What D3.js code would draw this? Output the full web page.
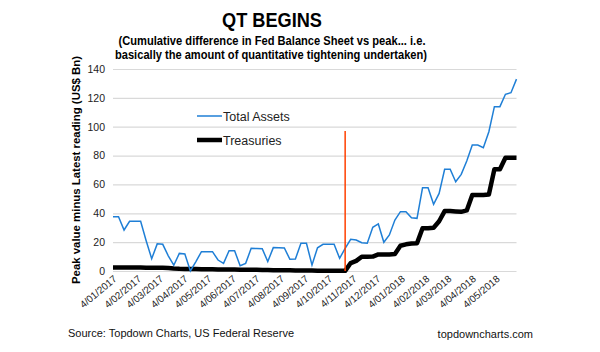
<!DOCTYPE html>
<html>
<head>
<meta charset="utf-8">
<script src="https://cdn.jsdelivr.net/npm/d3@7"></script>
<style>
  body { margin: 0; background: #fff; }
  svg { font-family: "Liberation Sans", Arial, sans-serif; }
</style>
</head>
<body>
<div id="chart"></div>
<script>
// weekly Fed H.4.1 readings, Wednesdays from 4 Jan 2017
const firstWeek = new Date(2017, 0, 4);
const totalAssets = [
  37.6, 37.6, 28.4, 34.4, 34.4, 34.4, 21, 8.5, 18.8, 18.5,
  10.5, 4, 12.2, 11.8, 0, 6.5, 13.4, 13.4, 13.4, 7.6,
  5.3, 14.1, 14, 3.7, 5.3, 15.7, 15.6, 15.5, 6.5, 16.2,
  16.1, 16, 8.1, 8.3, 19.2, 19.2, 4.2, 16.1, 18.5, 18.5,
  18.5, 8.8, 15.7, 22, 21.5, 19.6, 19.2, 30.3, 32.6, 19.9,
  25, 35.3, 41.1, 41.1, 36.9, 36.5, 57.7, 57.7, 46.2, 53.8,
  70.5, 70.5, 61.9, 67, 76.2, 87.3, 87.3, 85.4, 96.5, 113.9,
  113.9, 122.5, 123.6, 133
];
const treasuries = [
  2.5, 2.5, 2.5, 2.4, 2.4, 2.4, 2.3, 2.3, 2.3, 2.2,
  2.1, 1.7, 1.5, 1.4, 1.3, 1.3, 1.2, 1.2, 1.2, 1.1,
  1.1, 1.0, 1.0, 0.9, 0.9, 0.8, 0.8, 0.7, 0.7, 0.6,
  0.6, 0.5, 0.5, 0.4, 0.4, 0.3, 0.3, 0.2, 0.2, 0.1,
  0.1, 0.1, 0.1, 5.5, 7, 9.9, 9.9, 10, 11.5, 11.5,
  11.5, 11.8, 17.5, 18.5, 19, 19.2, 29.6, 29.6, 30, 34.5,
  41.5, 41.5, 41.3, 41, 42, 52.7, 52.7, 52.7, 53, 70.5,
  70.5, 78.5, 78.5, 78.5
];
const yTicks = [0, 20, 40, 60, 80, 100, 120, 140];
const qtStart = new Date(2017, 9, 25);
const qtMarkerTop = 97;

const dates = totalAssets.map((d, i) => d3.timeDay.offset(firstWeek, i * 7));

const W = 600, H = 352;
const margin = {top: 69, right: 83.5, bottom: 81, left: 113};
const w = W - margin.left - margin.right;
const h = H - margin.top - margin.bottom;

const svg = d3.select("#chart").append("svg")
  .attr("width", W).attr("height", H);

// titles
svg.append("text")
  .attr("x", 272).attr("y", 27)
  .attr("text-anchor", "middle")
  .attr("font-size", 21).attr("font-weight", "bold")
  .attr("textLength", 100).attr("lengthAdjust", "spacingAndGlyphs")
  .text("QT BEGINS");
svg.append("text")
  .attr("x", 272).attr("y", 45)
  .attr("text-anchor", "middle")
  .attr("font-size", 12.5).attr("font-weight", "bold")
  .attr("textLength", 307).attr("lengthAdjust", "spacingAndGlyphs")
  .text("(Cumulative difference in Fed Balance Sheet vs peak... i.e.");
svg.append("text")
  .attr("x", 271).attr("y", 59)
  .attr("text-anchor", "middle")
  .attr("font-size", 12.5).attr("font-weight", "bold")
  .attr("textLength", 312).attr("lengthAdjust", "spacingAndGlyphs")
  .text("basically the amount of quantitative tightening undertaken)");

const g = svg.append("g")
  .attr("transform", "translate(" + margin.left + "," + margin.top + ")");

const x = d3.scaleTime()
  .domain([dates[0], dates[dates.length - 1]])
  .range([0, w]);
const y = d3.scaleLinear()
  .domain([0, 140])
  .range([h, 0]);

// gridlines + y labels
const yAxis = d3.axisLeft(y).tickValues(yTicks).tickSize(-w).tickPadding(8);
g.append("g")
  .attr("class", "y-axis")
  .call(yAxis)
  .call(a => a.select(".domain").remove())
  .call(a => a.selectAll(".tick line").attr("stroke", "#d9d9d9").attr("stroke-width", 1.2))
  .call(a => a.selectAll(".tick text").attr("font-size", 10.5).attr("fill", "#222")
    .attr("font-family", "Liberation Sans, Arial, sans-serif"));

// x axis, monthly labels
const months = d3.timeMonth.range(new Date(2017, 0, 1), new Date(2018, 5, 1))
  .map(d => d3.timeDay.offset(d, 3));
const xAxis = d3.axisBottom(x).tickValues(months).tickSize(0)
  .tickFormat(d => d.getDate() + "/" + d3.timeFormat("%m/%Y")(d));
g.append("g")
  .attr("class", "x-axis")
  .attr("transform", "translate(0," + h + ")")
  .call(xAxis)
  .call(a => a.select(".domain").remove())
  .call(a => a.selectAll(".tick text")
    .attr("font-size", 10).attr("fill", "#222")
    .attr("font-family", "Liberation Sans, Arial, sans-serif")
    .attr("text-anchor", "end")
    .attr("dy", null).attr("y", 0)
    .attr("transform", "translate(4,9) rotate(-40)"));

// y title
svg.append("text")
  .attr("transform", "translate(80," + (margin.top + h / 2) + ") rotate(-90)")
  .attr("text-anchor", "middle")
  .attr("font-size", 11.5).attr("font-weight", "bold")
  .attr("textLength", 228).attr("lengthAdjust", "spacingAndGlyphs")
  .text("Peak value minus Latest reading (US$ Bn)");

const line = d3.line()
  .x((d, i) => x(dates[i]))
  .y(d => y(d));

g.append("path")
  .datum(treasuries)
  .attr("fill", "none")
  .attr("stroke", "#000")
  .attr("stroke-width", 4.5)
  .attr("stroke-linejoin", "round")
  .attr("d", line);

g.append("path")
  .datum(totalAssets)
  .attr("fill", "none")
  .attr("stroke", "#1f7fd6")
  .attr("stroke-width", 1.5)
  .attr("d", line);

// QT start marker
g.append("line")
  .attr("x1", x(qtStart)).attr("x2", x(qtStart))
  .attr("y1", y(0)).attr("y2", y(qtMarkerTop))
  .attr("stroke", "#ff4000")
  .attr("stroke-width", 1.5);

// legend
const legend = svg.append("g").attr("transform", "translate(197,116)");
const items = [
  {name: "Total Assets", color: "#1f7fd6", width: 1.5},
  {name: "Treasuries", color: "#000", width: 4.5}
];
items.forEach((it, i) => {
  legend.append("line")
    .attr("x1", 0).attr("x2", 25)
    .attr("y1", i * 24).attr("y2", i * 24)
    .attr("stroke", it.color).attr("stroke-width", it.width);
  legend.append("text")
    .attr("x", 26).attr("y", i * 24 + 4.5)
    .attr("font-size", 12.5).attr("fill", "#222")
    .text(it.name);
});

// footer
svg.append("text")
  .attr("x", 68).attr("y", 337)
  .attr("font-size", 11).attr("fill", "#111")
  .text("Source: Topdown Charts, US Federal Reserve");
svg.append("text")
  .attr("x", 533).attr("y", 338)
  .attr("text-anchor", "end")
  .attr("font-size", 11).attr("fill", "#111")
  .text("topdowncharts.com");
</script>
</body>
</html>
